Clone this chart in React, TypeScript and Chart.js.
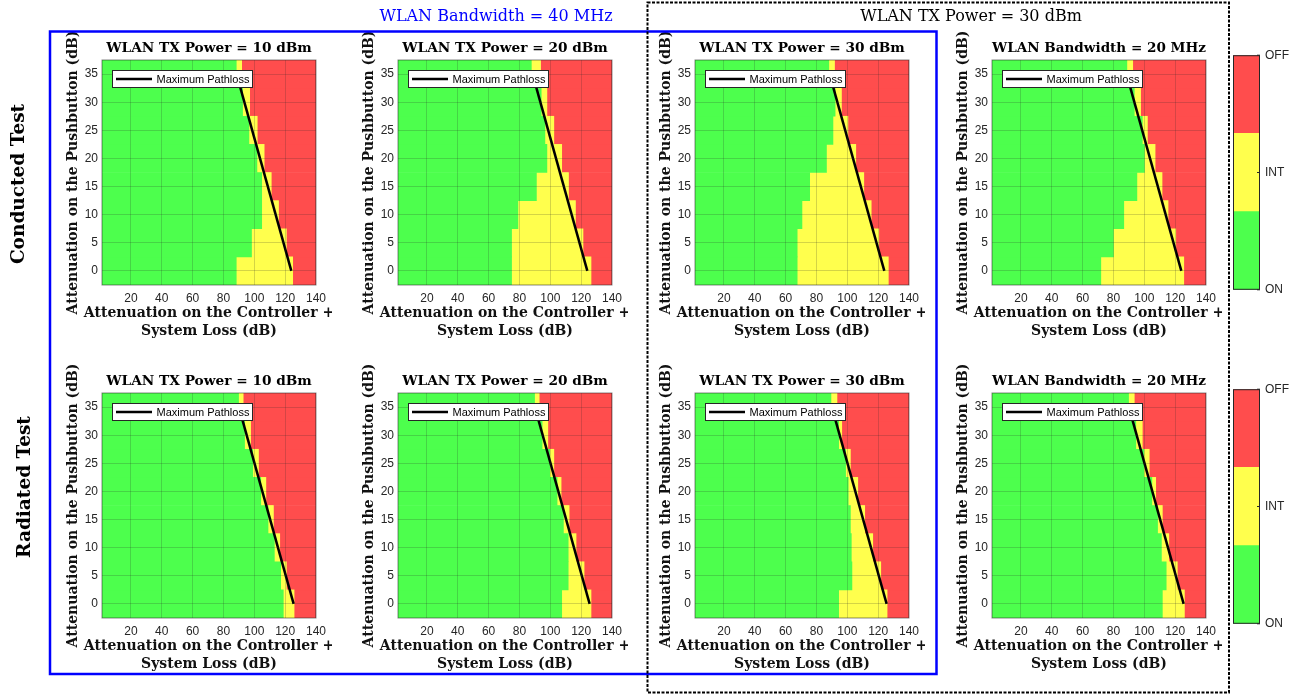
import React, { useEffect, useRef } from 'react';
import { Chart, registerables } from 'chart.js';

Chart.register(...registerables);

// ---------- data ----------
const ROW_Y = [0, 5, 10, 15, 20, 25, 30, 35];
const X_TICKS = [20, 40, 60, 80, 100, 120, 140];
const Y_TICKS = [0, 5, 10, 15, 20, 25, 30, 35];
const X_RANGE = [1.25, 140];
const Y_RANGE = [-2.5, 37.5];

// per row (y = 0..35): end of the ON (green) zone and start of the OFF (red) zone, dB
const C10_GREEN_END = [88.3, 98.2, 104.8, 104.8, 101.7, 96.5, 92.4, 88.3];
const C10_RED_START = [124.9, 120.8, 115.7, 111.0, 106.4, 101.9, 97.0, 91.8];
const C20_GREEN_END = [74.9, 74.9, 79.0, 91.0, 97.8, 96.5, 94.1, 87.7];
const C20_RED_START = [126.4, 121.2, 116.3, 111.8, 107.4, 102.3, 97.8, 93.7];
const C30_GREEN_END = [67.5, 67.5, 70.6, 75.6, 86.5, 90.7, 92.1, 88.0];
const C30_RED_START = [126.6, 120.4, 115.5, 110.7, 105.5, 100.4, 96.2, 91.7];
const CBW_GREEN_END = [71.8, 80.0, 86.7, 95.2, 100.1, 98.7, 93.5, 88.7];
const CBW_RED_START = [125.6, 120.4, 115.4, 111.5, 107.0, 102.0, 97.6, 92.5];

const R10_GREEN_END = [118.8, 117.1, 113.0, 108.9, 104.2, 99.0, 93.7, 89.8];
const R10_RED_START = [125.8, 120.8, 116.5, 112.4, 107.5, 102.7, 97.6, 92.8];
const R20_GREEN_END = [107.4, 111.6, 111.6, 108.5, 104.4, 99.6, 94.7, 89.8];
const R20_RED_START = [126.4, 121.9, 116.7, 112.2, 107.0, 102.3, 98.4, 92.8];
const R30_GREEN_END = [94.4, 103.0, 102.6, 102.0, 100.6, 98.9, 94.4, 89.4];
const R30_RED_START = [125.8, 121.7, 116.5, 111.3, 106.8, 102.0, 96.4, 93.3];
const RBW_GREEN_END = [111.7, 114.2, 111.1, 108.6, 104.9, 99.7, 94.5, 89.8];
const RBW_RED_START = [126.0, 121.4, 115.9, 111.7, 107.4, 103.2, 98.7, 93.5];

const PATHLOSS_Y = [0, 35];
const PATHLOSS_X_CONDUCTED = [124, 88.5];
const PATHLOSS_X_RADIATED = [125.5, 90];

const TITLES = ['WLAN TX Power = 10 dBm', 'WLAN TX Power = 20 dBm', 'WLAN TX Power = 30 dBm', 'WLAN Bandwidth = 20 MHz'];
const X_TITLE = ['Attenuation on the Controller +', 'System Loss (dB)'];
const Y_TITLE = 'Attenuation on the Pushbutton (dB)';
const LINE_LABEL = 'Maximum Pathloss';
const STATE_LABELS = ['ON', 'INT', 'OFF'];
const STATE_TICKS = [0, 1.5, 3];
const ROW_LABELS = ['Conducted Test', 'Radiated Test'];
const GROUP_TITLES = ['WLAN Bandwidth = 40 MHz', 'WLAN TX Power = 30 dBm'];

// ---------- style ----------
const GREEN = '#4DFF4D';
const YELLOW = '#FFFF4D';
const RED = '#FF4D4D';
const GRID = 'rgba(38,38,38,0.2)';
const TICK_COLOR = '#262626';
const SERIF = '"DejaVu Serif", serif';
const SANS = '"Liberation Sans", Arial, sans-serif';

const COL_LEFT = [102, 398, 695, 992];
const ROW_TOP = [60, 393];
const CW = 320;
const CH = 340;
const OX = 90;
const OY = 50;
const PW = 224.5;
const PH = 225;

type PanelCfg = {
  title: string;
  green: number[];
  red: number[];
  lineX: number[];
  col: number;
  row: number;
};

const PANELS: PanelCfg[] = [
  { title: TITLES[0], green: C10_GREEN_END, red: C10_RED_START, lineX: PATHLOSS_X_CONDUCTED, col: 0, row: 0 },
  { title: TITLES[1], green: C20_GREEN_END, red: C20_RED_START, lineX: PATHLOSS_X_CONDUCTED, col: 1, row: 0 },
  { title: TITLES[2], green: C30_GREEN_END, red: C30_RED_START, lineX: PATHLOSS_X_CONDUCTED, col: 2, row: 0 },
  { title: TITLES[3], green: CBW_GREEN_END, red: CBW_RED_START, lineX: PATHLOSS_X_CONDUCTED, col: 3, row: 0 },
  { title: TITLES[0], green: R10_GREEN_END, red: R10_RED_START, lineX: PATHLOSS_X_RADIATED, col: 0, row: 1 },
  { title: TITLES[1], green: R20_GREEN_END, red: R20_RED_START, lineX: PATHLOSS_X_RADIATED, col: 1, row: 1 },
  { title: TITLES[2], green: R30_GREEN_END, red: R30_RED_START, lineX: PATHLOSS_X_RADIATED, col: 2, row: 1 },
  { title: TITLES[3], green: RBW_GREEN_END, red: RBW_RED_START, lineX: PATHLOSS_X_RADIATED, col: 3, row: 1 },
];

const panelDecor = {
  id: 'panelDecor',
  afterDraw(chart: any) {
    const { ctx, chartArea } = chart;
    const { left, top, right, bottom } = chartArea;
    ctx.save();
    // axes box
    ctx.strokeStyle = 'rgba(38,38,38,0.55)';
    ctx.lineWidth = 1;
    ctx.strokeRect(left, top, right - left, bottom - top);
    // x-axis title (two lines, wider than the axes)
    ctx.fillStyle = '#111';
    ctx.font = `bold 14px ${SERIF}`;
    ctx.textAlign = 'center';
    ctx.textBaseline = 'middle';
    const cx = (left + right) / 2;
    ctx.fillText(X_TITLE[0], cx, bottom + 28);
    ctx.fillText(X_TITLE[1], cx, bottom + 46.4);
    // legend box
    const line = chart.data.datasets[3];
    const bx = left + 10;
    const by = top + 10;
    const bw = 141;
    const bh = 18;
    ctx.fillStyle = '#fff';
    ctx.fillRect(bx, by, bw, bh);
    ctx.strokeStyle = '#262626';
    ctx.lineWidth = 1;
    ctx.strokeRect(bx + 0.5, by + 0.5, bw - 1, bh - 1);
    ctx.strokeStyle = line.borderColor;
    ctx.lineWidth = 2.5;
    ctx.beginPath();
    ctx.moveTo(bx + 4, by + bh / 2);
    ctx.lineTo(bx + 40, by + bh / 2);
    ctx.stroke();
    ctx.fillStyle = '#000';
    ctx.font = `11px ${SANS}`;
    ctx.textAlign = 'left';
    ctx.fillText(line.label, bx + 44.5, by + bh / 2 + 0.5);
    ctx.restore();
  },
};

function Panel({ cfg }: { cfg: PanelCfg }) {
  const ref = useRef<HTMLCanvasElement>(null);
  useEffect(() => {
    const barCommon = {
      type: 'bar' as const,
      grouped: false,
      barPercentage: 1,
      categoryPercentage: 1,
      borderWidth: 0,
      order: 2,
    };
    const chart = new Chart(ref.current as HTMLCanvasElement, {
      type: 'bar',
      data: {
        datasets: [
          { ...barCommon, label: STATE_LABELS[0], backgroundColor: GREEN, data: ROW_Y.map((y, i) => ({ y, x: [X_RANGE[0], cfg.green[i]] })) },
          { ...barCommon, label: STATE_LABELS[1], backgroundColor: YELLOW, data: ROW_Y.map((y, i) => ({ y, x: [cfg.green[i], cfg.red[i]] })) },
          { ...barCommon, label: STATE_LABELS[2], backgroundColor: RED, data: ROW_Y.map((y, i) => ({ y, x: [cfg.red[i], X_RANGE[1]] })) },
          {
            type: 'line',
            label: LINE_LABEL,
            data: PATHLOSS_Y.map((y, i) => ({ x: cfg.lineX[i], y })),
            borderColor: '#000',
            backgroundColor: '#000',
            borderWidth: 2.5,
            pointRadius: 0,
            fill: false,
            order: 0,
          },
        ] as any,
      },
      options: {
        animation: false,
        responsive: false,
        maintainAspectRatio: false,
        indexAxis: 'y',
        events: [],
        layout: { padding: { left: 53.2, top: 30.08, right: CW - OX - PW, bottom: 0 } },
        scales: {
          x: {
            type: 'linear',
            min: X_RANGE[0],
            max: X_RANGE[1],
            offset: false,
            afterBuildTicks: (s: any) => { s.ticks = X_TICKS.map((v) => ({ value: v })); },
            afterFit: (s: any) => { s.height = CH - OY - PH; },
            grid: { color: GRID, z: 1, drawTicks: false, offset: false, lineWidth: 1 },
            border: { display: false },
            ticks: { color: TICK_COLOR, font: { family: SANS, size: 12 }, padding: 6, maxRotation: 0, autoSkip: false },
          },
          y: {
            type: 'linear',
            min: Y_RANGE[0],
            max: Y_RANGE[1],
            offset: false,
            afterBuildTicks: (s: any) => { s.ticks = Y_TICKS.map((v) => ({ value: v })); },
            afterFit: (s: any) => { s.width = OX - 53.2; },
            grid: { color: GRID, z: 1, drawTicks: false, offset: false, lineWidth: 1 },
            border: { display: false },
            ticks: { color: TICK_COLOR, font: { family: SANS, size: 12 }, padding: 4, autoSkip: false },
            title: { display: true, text: Y_TITLE, color: '#111', font: { family: SERIF, size: 14, weight: 'bold' }, padding: 0 },
          },
        },
        plugins: {
          legend: { display: false },
          tooltip: { enabled: false },
          title: {
            display: true,
            text: cfg.title,
            fullSize: false,
            color: '#000',
            font: { family: SERIF, size: 13.7, weight: 'bold' },
            padding: { top: 0, bottom: 3.48 },
          },
        },
      } as any,
      plugins: [panelDecor],
    });
    return () => chart.destroy();
  }, [cfg]);
  return (
    <canvas
      ref={ref}
      width={CW}
      height={CH}
      style={{ position: 'absolute', left: COL_LEFT[cfg.col] - OX, top: ROW_TOP[cfg.row] - OY, width: CW, height: CH }}
    />
  );
}

const barBorder = {
  id: 'barBorder',
  afterDraw(chart: any) {
    const { ctx, chartArea } = chart;
    ctx.save();
    ctx.strokeStyle = '#262626';
    ctx.lineWidth = 1;
    ctx.strokeRect(chartArea.left + 0.5, chartArea.top + 0.5, chartArea.right - chartArea.left - 1, chartArea.bottom - chartArea.top - 1);
    // small inward tick marks on the right edge at each state
    chart.scales.y.ticks.forEach((t: any) => {
      const py = chart.scales.y.getPixelForValue(t.value);
      ctx.beginPath();
      ctx.moveTo(chartArea.right - 3, py);
      ctx.lineTo(chartArea.right, py);
      ctx.stroke();
    });
    ctx.restore();
  },
};

function ColorBar({ top }: { top: number }) {
  const ref = useRef<HTMLCanvasElement>(null);
  useEffect(() => {
    const chart = new Chart(ref.current as HTMLCanvasElement, {
      type: 'bar',
      data: {
        labels: [''],
        datasets: [
          { label: STATE_LABELS[0], data: [1], backgroundColor: GREEN, borderWidth: 0, barPercentage: 1, categoryPercentage: 1 },
          { label: STATE_LABELS[1], data: [1], backgroundColor: YELLOW, borderWidth: 0, barPercentage: 1, categoryPercentage: 1 },
          { label: STATE_LABELS[2], data: [1], backgroundColor: RED, borderWidth: 0, barPercentage: 1, categoryPercentage: 1 },
        ],
      },
      options: {
        animation: false,
        responsive: false,
        maintainAspectRatio: false,
        events: [],
        layout: { padding: { left: 0, top: 10, right: 0, bottom: 10 } },
        scales: {
          x: { stacked: true, display: false, offset: true },
          y: {
            stacked: true,
            position: 'right',
            min: 0,
            max: 3,
            afterBuildTicks: (s: any) => { s.ticks = STATE_TICKS.map((v) => ({ value: v })); },
            afterFit: (s: any) => { s.width = 43; },
            grid: { display: false, drawTicks: false },
            border: { display: false },
            ticks: {
              color: TICK_COLOR,
              font: { family: SANS, size: 12 },
              padding: 5,
              callback: (v: any) => STATE_LABELS[STATE_TICKS.indexOf(Number(v))],
            },
          },
        },
        plugins: { legend: { display: false }, tooltip: { enabled: false } },
      } as any,
      plugins: [barBorder],
    });
    return () => chart.destroy();
  }, [top]);
  return (
    <canvas ref={ref} width={70} height={259} style={{ position: 'absolute', left: 1233, top: top - 10, width: 70, height: 259 }} />
  );
}

export default function App() {
  return (
    <div style={{ position: 'absolute', left: 0, top: 0, width: 1305, height: 696, background: '#fff', overflow: 'hidden' }}>
      {PANELS.map((p, i) => (
        <Panel key={i} cfg={p} />
      ))}
      <ColorBar top={53} />
      <ColorBar top={387} />
      <svg width={1305} height={696} style={{ position: 'absolute', left: 0, top: 0, pointerEvents: 'none' }}>
        <rect x={50} y={31.5} width={886.5} height={642.5} fill="none" stroke="#0000ff" strokeWidth={2.5} />
        <rect x={647.5} y={2.5} width={581.5} height={690} fill="none" stroke="#000" strokeWidth={2} strokeDasharray="3 1.5" />
      </svg>
      <div style={{ position: 'absolute', left: 496, top: 16, transform: 'translate(-50%,-50%)', whiteSpace: 'nowrap', font: `16px ${SERIF}`, color: '#0000ff', lineHeight: 1 }}>
        {GROUP_TITLES[0]}
      </div>
      <div style={{ position: 'absolute', left: 971, top: 16, transform: 'translate(-50%,-50%)', whiteSpace: 'nowrap', font: `16px ${SERIF}`, color: '#000', lineHeight: 1 }}>
        {GROUP_TITLES[1]}
      </div>
      <div style={{ position: 'absolute', left: 17.5, top: 184, transform: 'translate(-50%,-50%) rotate(-90deg)', whiteSpace: 'nowrap', font: `bold 18.5px ${SERIF}`, color: '#000', lineHeight: 1 }}>
        {ROW_LABELS[0]}
      </div>
      <div style={{ position: 'absolute', left: 24.2, top: 486.5, transform: 'translate(-50%,-50%) rotate(-90deg)', whiteSpace: 'nowrap', font: `bold 18.5px ${SERIF}`, color: '#000', lineHeight: 1 }}>
        {ROW_LABELS[1]}
      </div>
    </div>
  );
}
